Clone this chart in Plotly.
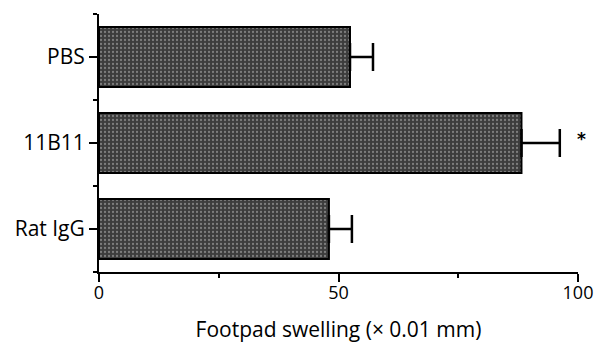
import plotly.graph_objects as go

categories = ["Rat IgG", "11B11", "PBS"]
values = [48.0, 88.2, 52.4]
errors = [4.8, 8.0, 4.8]
x_ticks = [0, 50, 100]
x_minor_ticks = [25, 75]
x_range = [0, 100]
star_category = "11B11"
star_x = 100.8

ypos = list(range(len(categories)))

fig = go.Figure()
fig.add_trace(go.Bar(
    x=values,
    y=ypos,
    orientation="h",
    width=0.7,
    marker=dict(
        color="#3c3c3c",
        line=dict(color="black", width=2),
        pattern=dict(shape=".", fgcolor="#bdbdbd", bgcolor="#3c3c3c", size=4, solidity=0.25),
    ),
    error_x=dict(type="data", array=errors, arrayminus=[0] * len(errors), symmetric=False,
                 color="black", thickness=2.5, width=14),
))

star_paper_x = (star_x - x_range[0]) / (x_range[1] - x_range[0])
star_paper_y = (categories.index(star_category) + 0.5) / len(categories)
fig.add_annotation(x=star_paper_x, y=star_paper_y, xref="paper", yref="paper",
                   text="<b>*</b>", showarrow=False, yshift=4, xanchor="center", yanchor="middle",
                   font=dict(family="DejaVu Sans", size=17, color="black"))

font_family = "Open Sans, Noto Sans, sans-serif"

fig.update_layout(
    width=605, height=343,
    margin=dict(l=99, r=27, t=14, b=71),
    paper_bgcolor="white", plot_bgcolor="white",
    showlegend=False,
    font=dict(family=font_family, size=18, color="black"),
    xaxis=dict(
        range=x_range, tickvals=x_ticks, ticktext=[str(v) for v in x_ticks],
        showline=True, linecolor="black", linewidth=2,
        ticks="outside", ticklen=8, tickwidth=2, tickcolor="black",
        minor=dict(tickvals=x_minor_ticks, ticks="outside", ticklen=4, tickwidth=2, tickcolor="black"),
        showgrid=False, zeroline=False, automargin=False,
        ticklabelstandoff=-5,
        title=dict(text="Footpad swelling (× 0.01 mm)", standoff=21, font=dict(size=21)),
        tickfont=dict(size=18),
    ),
    yaxis=dict(
        range=[-0.5, len(categories) - 0.5], tickvals=ypos, ticktext=categories,
        showline=True, linecolor="black", linewidth=2,
        ticks="outside", ticklen=8, tickwidth=2, tickcolor="black",
        minor=dict(tickvals=[i - 0.5 for i in range(len(categories) + 1)], ticks="outside",
                   ticklen=4, tickwidth=2, tickcolor="black"),
        showgrid=False, zeroline=False, automargin=False,
        tickfont=dict(size=21),
    ),
)

fig.write_html("out.html", config={"displayModeBar": False},
               post_script="document.body.style.margin='0';")
